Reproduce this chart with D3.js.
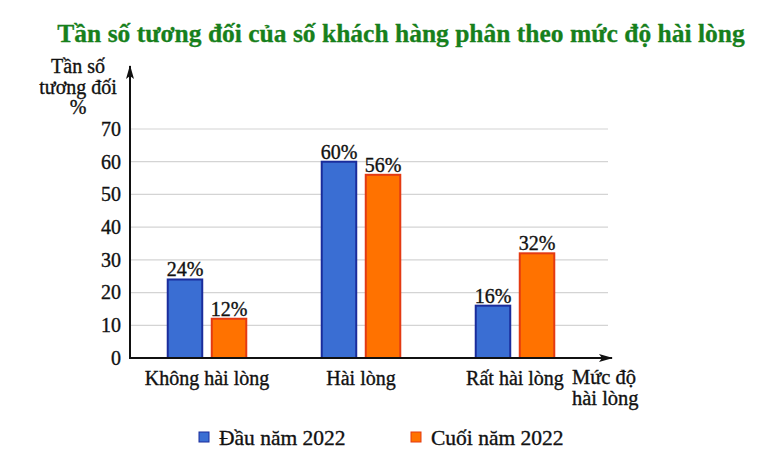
<!DOCTYPE html>
<html>
<head>
<meta charset="utf-8">
<script src="https://cdn.jsdelivr.net/npm/d3@7"></script>
<style>
  body { margin: 0; background: #fff; }
  text { font-family: "Liberation Serif", "DejaVu Serif", serif; fill: #111; stroke: #111; stroke-width: 0.35px; }
</style>
</head>
<body>
<div id="chart"></div>
<script>
var svgWidth = 760;
var svgHeight = 465;

// chart data
var categories = ["Không hài lòng", "Hài lòng", "Rất hài lòng"];
var seriesNames = ["Đầu năm 2022", "Cuối năm 2022"];
var startValues = [24, 60, 16];
var endValues = [12, 56, 32];
var yTicks = [0, 10, 20, 30, 40, 50, 60, 70];

var fills = ["#3a6ed3", "#ff7200"];
var strokes = ["#1a2c9c", "#e43a12"];

var margin = { top: 129, left: 130, right: 150, bottom: 107 };
var width = 462;
var height = svgHeight - margin.top - margin.bottom; // 229

var svg = d3.select("#chart")
  .append("svg")
  .attr("width", svgWidth)
  .attr("height", svgHeight);

// title
svg.append("text")
  .attr("x", 401)
  .attr("y", 42)
  .attr("text-anchor", "middle")
  .style("font-size", "25.5px")
  .style("font-weight", "bold")
  .style("fill", "#17801c")
  .style("stroke", "#17801c")
  .style("stroke-width", "0.3px")
  .text("Tần số tương đối của số khách hàng phân theo mức độ hài lòng");

var chartGroup = svg.append("g")
  .attr("transform", `translate(${margin.left}, ${margin.top})`);

var yScale = d3.scaleLinear().domain([0, 70]).range([height, 0]);

var x0 = d3.scaleBand()
  .domain(categories)
  .range([0, width])
  .paddingInner(0.49)
  .paddingOuter(0.245);

var x1 = d3.scaleBand()
  .domain([0, 1])
  .range([0, x0.bandwidth()])
  .paddingInner(0.216);

// gridlines
chartGroup.append("g")
  .selectAll("line")
  .data(yTicks.filter(d => d > 0))
  .enter()
  .append("line")
  .attr("x1", 0)
  .attr("x2", 478)
  .attr("y1", d => yScale(d))
  .attr("y2", d => yScale(d))
  .attr("stroke", "#d4d4d4")
  .attr("stroke-width", 1.2);

// y axis tick labels
var leftAxis = d3.axisLeft(yScale).tickValues(yTicks).tickSize(0).tickPadding(9);
var yAxis = chartGroup.append("g").call(leftAxis);
yAxis.attr("font-family", null);
yAxis.select(".domain").remove();
yAxis.selectAll("text")
  .style("font-family", "'Liberation Serif', serif")
  .style("font-size", "20px")
  .attr("fill", "#111");

// bars
var rows = categories.map((c, i) => ({ cat: c, vals: [startValues[i], endValues[i]] }));

var groups = chartGroup.selectAll(".grp")
  .data(rows)
  .enter()
  .append("g")
  .attr("transform", d => `translate(${x0(d.cat)}, 0)`);

groups.selectAll("rect")
  .data(d => d.vals.map((v, j) => ({ v: v, j: j })))
  .enter()
  .append("rect")
  .attr("x", d => x1(d.j))
  .attr("y", d => yScale(d.v))
  .attr("width", x1.bandwidth())
  .attr("height", d => height - yScale(d.v))
  .attr("fill", d => fills[d.j])
  .attr("stroke", d => strokes[d.j])
  .attr("stroke-width", 2);

groups.selectAll(".lbl")
  .data(d => d.vals.map((v, j) => ({ v: v, j: j })))
  .enter()
  .append("text")
  .attr("x", d => x1(d.j) + x1.bandwidth() / 2)
  .attr("y", d => yScale(d.v) - 3)
  .attr("text-anchor", "middle")
  .style("font-size", "20px")
  .text(d => d.v + "%");

// axes with arrows
svg.append("defs").append("marker")
  .attr("id", "arrow")
  .attr("viewBox", "0 0 14 8")
  .attr("refX", 13)
  .attr("refY", 4)
  .attr("markerWidth", 14)
  .attr("markerHeight", 8)
  .attr("markerUnits", "userSpaceOnUse")
  .attr("orient", "auto")
  .append("path")
  .attr("d", "M0,0 L14,4 L0,8 L3,4 Z")
  .attr("fill", "#111");

chartGroup.append("line")
  .attr("x1", 0).attr("y1", height + 1)
  .attr("x2", 0).attr("y2", 66 - margin.top)
  .attr("stroke", "#111").attr("stroke-width", 2)
  .attr("marker-end", "url(#arrow)");

chartGroup.append("line")
  .attr("x1", -1).attr("y1", height)
  .attr("x2", 482).attr("y2", height)
  .attr("stroke", "#111").attr("stroke-width", 2)
  .attr("marker-end", "url(#arrow)");

// category labels
chartGroup.selectAll(".cat")
  .data(categories)
  .enter()
  .append("text")
  .attr("x", d => x0(d) + x0.bandwidth() / 2)
  .attr("y", height + 27)
  .attr("text-anchor", "middle")
  .style("font-size", "20px")
  .text(d => d);

// axis titles
var yTitle = svg.append("text")
  .attr("text-anchor", "middle")
  .style("font-size", "20px");
yTitle.append("tspan").attr("x", 78).attr("y", 73).text("Tần số");
yTitle.append("tspan").attr("x", 78).attr("y", 94).text("tương đối");
yTitle.append("tspan").attr("x", 78).attr("y", 114).text("%");

var xTitle = svg.append("text")
  .style("font-size", "20.5px");
xTitle.append("tspan").attr("x", 572).attr("y", 384).text("Mức độ");
xTitle.append("tspan").attr("x", 572).attr("y", 405).text("hài lòng");

// legend
var legend = svg.append("g");
var legendX = [199, 411];
seriesNames.forEach(function(name, j) {
  legend.append("rect")
    .attr("x", legendX[j])
    .attr("y", 432)
    .attr("width", 10)
    .attr("height", 10)
    .attr("fill", fills[j])
    .attr("stroke", strokes[j])
    .attr("stroke-width", 1);
  legend.append("text")
    .attr("x", legendX[j] + 20)
    .attr("y", 445)
    .style("font-size", "21.5px")
    .text(name);
});
</script>
</body>
</html>
